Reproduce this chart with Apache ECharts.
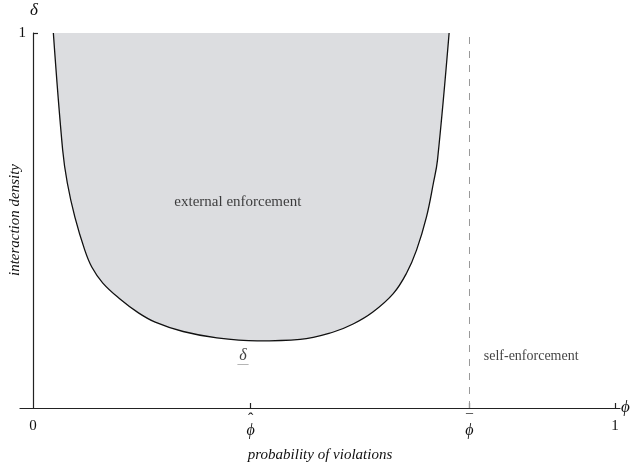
<!DOCTYPE html>
<html><head><meta charset="utf-8">
<script src="https://cdn.jsdelivr.net/npm/echarts@6/dist/echarts.min.js"></script>
<style>html,body{margin:0;padding:0;background:#fff}#c{width:639px;height:467px}</style>
</head><body><div id="c"></div>
<script>
// boundary of the external-enforcement region (phi, delta)
const boundaryX = [0.035, 0.051, 0.059, 0.072, 0.089, 0.101, 0.120, 0.150, 0.180, 0.210, 0.258, 0.316, 0.385, 0.459, 0.515, 0.550, 0.584, 0.619, 0.642, 0.659, 0.676, 0.688, 0.695, 0.715];
const boundaryY = [1.000, 0.688, 0.600, 0.509, 0.421, 0.376, 0.333, 0.290, 0.255, 0.229, 0.204, 0.187, 0.179, 0.183, 0.202, 0.224, 0.256, 0.305, 0.360, 0.421, 0.509, 0.600, 0.661, 1.000];
const phiHat = 0.374;
const phiBar = 0.75;
const xTickValues = [0, phiHat, phiBar, 1];
const xTickLabels = ['{n|0}', '{hat|\u02C6}\n{i|\u03D5}', '{bar|\u00AF}\n{i|\u03D5}', '{n|1}'];
const yTickValues = [1];
const yTickLabels = ['1'];
const annotations = [
  {text: '{t|external enforcement}', x: 0.352, y: 0.549},
  {text: '{s|self-enforcement}', x: 0.856, y: 0.139},
  {text: '{i|\u03B4}\n{u|\u2014}', x: 0.361, y: 0.135}
];

const FONT = "'Liberation Serif', 'Times New Roman', serif";
const chart = echarts.init(document.getElementById('c'), null, {renderer: 'canvas'});
const curve = boundaryX.map((x, i) => [x, boundaryY[i]]);
chart.setOption({
  animation: false,
  grid: {left: 20, right: 19, top: 33, bottom: 59, containLabel: false, outerBoundsMode: 'none'},
  xAxis: {
    type: 'value', min: -0.0223, max: 1.0086,
    axisLine: {onZero: false, lineStyle: {color: '#222', width: 1.2}},
    axisTick: {show: true, inside: true, length: 5, customValues: xTickValues.slice(1), lineStyle: {color: '#222', width: 1.2}},
    axisLabel: {customValues: xTickValues, margin: 9, color: '#111', fontFamily: FONT, fontSize: 15,
      formatter: v => { const i = xTickValues.findIndex(t => Math.abs(t - v) < 1e-6); return i >= 0 ? xTickLabels[i] : ''; },
      rich: {
        n: {fontFamily: FONT, fontSize: 15, lineHeight: 18, color: '#111'},
        i: {fontStyle: 'italic', fontFamily: FONT, fontSize: 16, lineHeight: 16, color: '#111'},
        hat: {fontFamily: FONT, fontSize: 16, lineHeight: 6, color: '#111'},
        bar: {fontFamily: FONT, fontSize: 14, lineHeight: 6, color: '#111'}
      }},
    splitLine: {show: false},
    name: 'probability of violations', nameLocation: 'middle', nameGap: 40,
    nameTextStyle: {fontFamily: FONT, fontStyle: 'italic', fontSize: 15, color: '#111'}
  },
  yAxis: {
    type: 'value', min: 0, max: 1,
    axisLine: {show: true, onZero: true, lineStyle: {color: '#222', width: 1.2}},
    axisTick: {show: true, inside: true, length: 5, customValues: yTickValues, lineStyle: {color: '#222', width: 1.2}},
    axisLabel: {customValues: yTickValues, margin: -6, color: '#111', fontFamily: FONT, fontSize: 15,
      formatter: v => { const i = yTickValues.indexOf(v); return i >= 0 ? yTickLabels[i] : ''; }},
    splitLine: {show: false}
  },
  graphic: [
    {type: 'text', left: 30, top: 2, style: {text: '\u03B4', font: 'italic 17px ' + FONT, fill: '#111'}},
    {type: 'text', left: 621, top: 399, style: {text: '\u03D5', font: 'italic 17px ' + FONT, fill: '#111'}},
    {type: 'text', x: 15, y: 220, rotation: Math.PI / 2,
      style: {text: 'interaction density', font: 'italic 15px ' + FONT, fill: '#111', align: 'center', verticalAlign: 'middle'}}
  ],
  series: [
    {
      type: 'line', data: curve, smooth: 0.4, symbol: 'none',
      lineStyle: {color: '#111', width: 1.3},
      areaStyle: {origin: 'end', color: '#dcdde0', opacity: 1},
      z: 2
    },
    {
      type: 'line', data: [[phiBar, 0], [phiBar, 1]], symbol: 'none',
      lineStyle: {color: '#999', width: 1, type: [7, 7]}, z: 1
    },
    {
      type: 'scatter', symbolSize: 0, z: 5,
      data: annotations.map(a => ({value: [a.x, a.y], label: {formatter: a.text}})),
      label: {show: true, position: 'inside', color: '#111',
        rich: {
          t: {fontFamily: FONT, fontSize: 15, color: '#111'},
          s: {fontFamily: FONT, fontSize: 14, color: '#111'},
          i: {fontStyle: 'italic', fontFamily: FONT, fontSize: 16, lineHeight: 14, color: '#111'},
          u: {fontFamily: FONT, fontSize: 11, lineHeight: 4, color: '#555'}
        }}
    }
  ]
});
</script></body></html>
